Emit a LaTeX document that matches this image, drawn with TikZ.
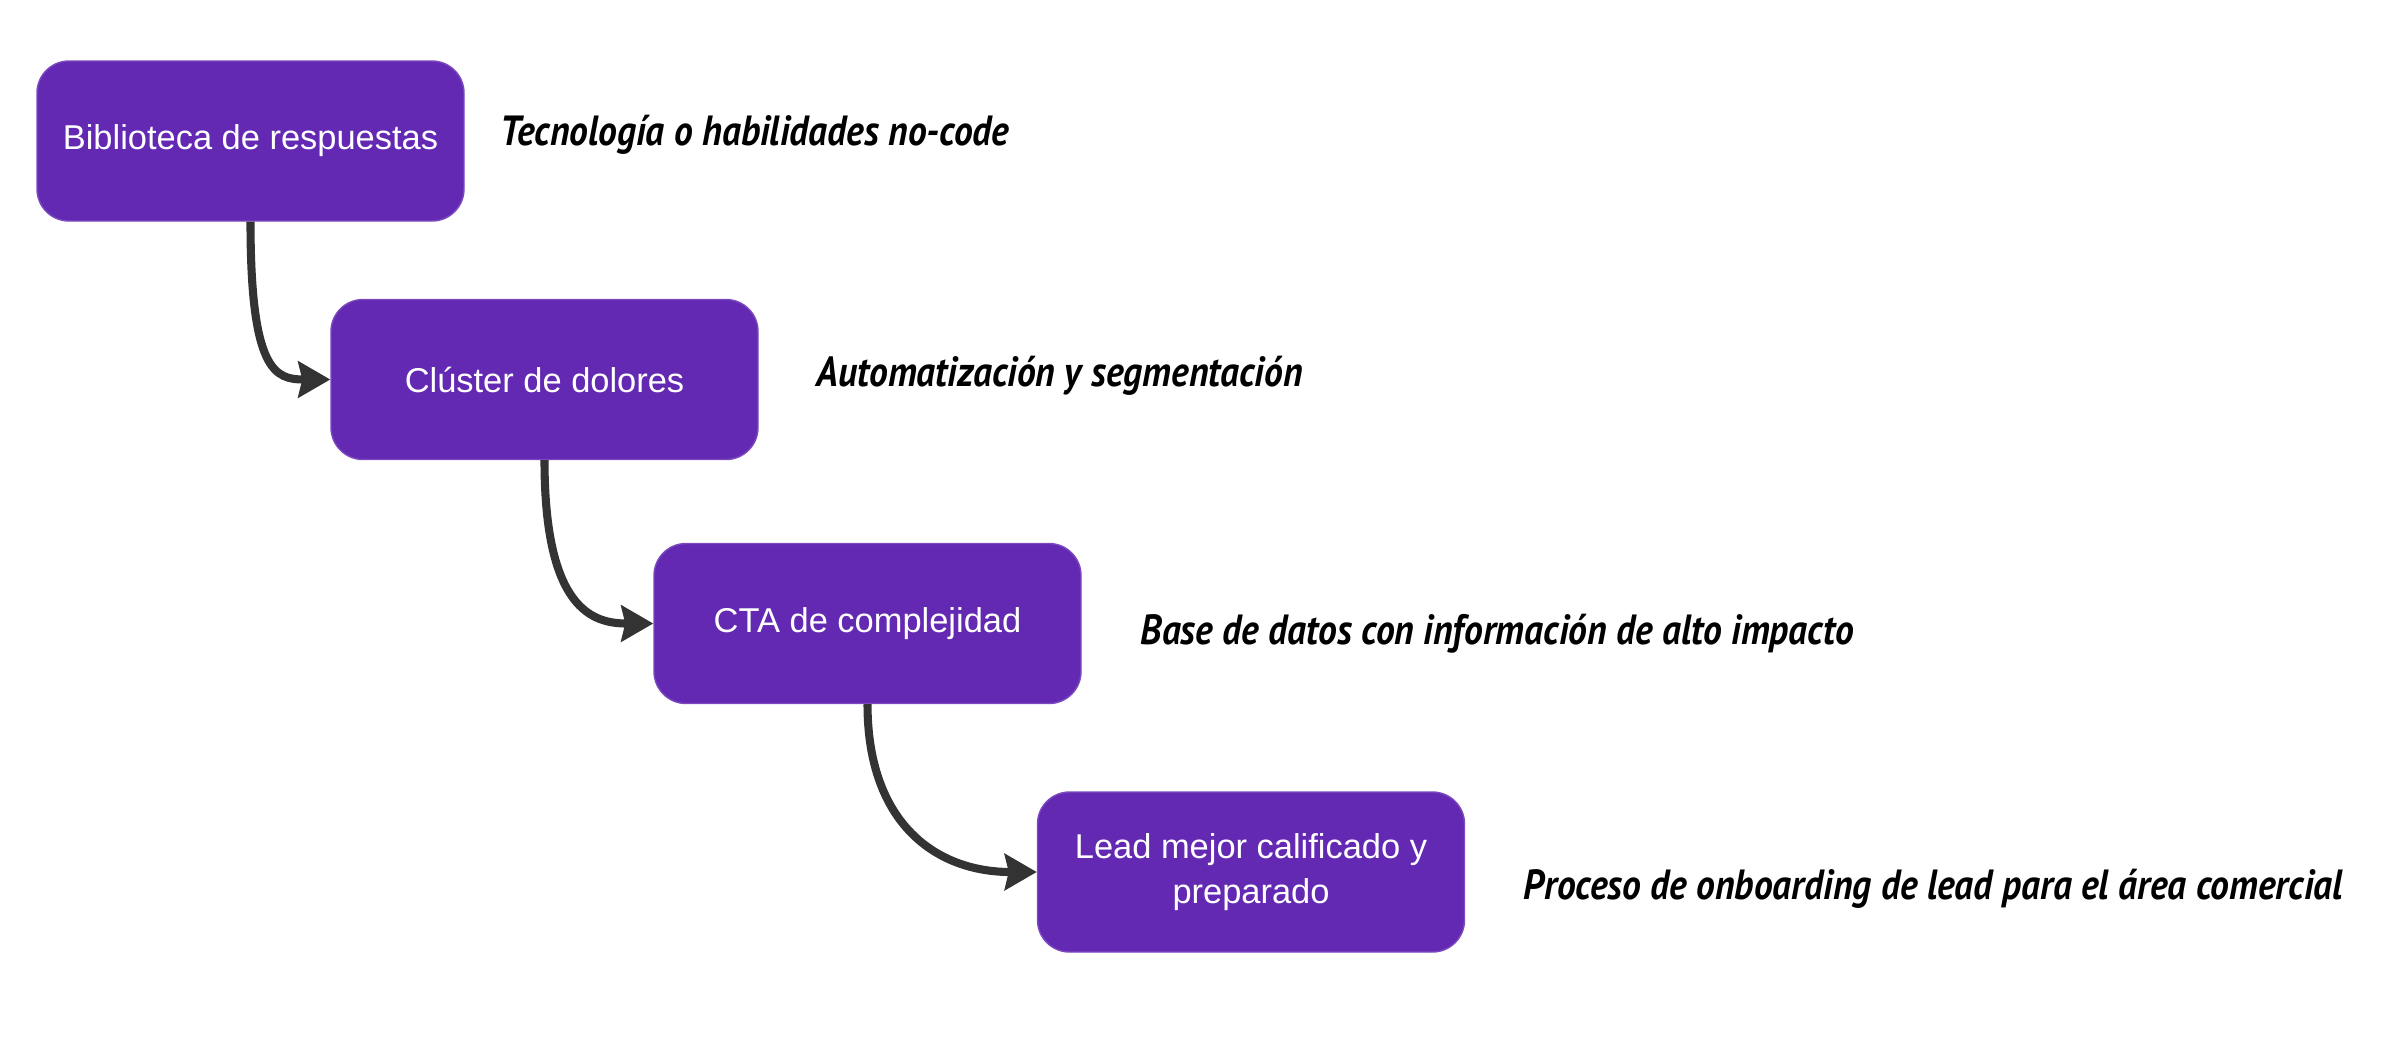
\documentclass[tikz,border=0pt]{standalone}
\usepackage{fontspec}
\setmainfont{Liberation Sans}
\newfontfamily\handfont[FakeStretch=0.89]{PT Sans}
\usepackage{tikz}
\usetikzlibrary{arrows.meta}

\definecolor{boxpurple}{HTML}{6429B3}
\definecolor{arrowgray}{HTML}{333333}

\tikzset{
  stepbox/.style={draw=boxpurple!85!white, fill=boxpurple, rounded corners=0.32cm,
    minimum width=4.27cm, minimum height=1.6cm, text=white, align=center,
    font=\fontsize{9.8}{13}\selectfont},
  note/.style={anchor=west, inner sep=0pt, font=\handfont\bfseries\itshape\fontsize{12}{14}\selectfont},
  flow/.style={draw=arrowgray, line width=2.3pt,
    -{Stealth[length=0.32cm,width=0.36cm,inset=0.04cm]}}
}

\begin{document}
\begin{tikzpicture}
    \useasboundingbox (0,0) rectangle (24,-10.62);

    \node[stepbox] (biblioteca) at (2.505,-1.41) {Biblioteca de respuestas};
    \node[stepbox] (cluster) at (5.445,-3.795) {Clúster de dolores};
    \node[stepbox] (cta) at (8.675,-6.235) {CTA de complejidad};
    \node[stepbox] (lead) at (12.51,-8.72) {Lead mejor calificado y\\preparado};

    \node[note] (tec) at (5.0,-1.35) {Tecnología o habilidades no-code};
    \node[note] (auto) at (8.16,-3.76) {Automatización y segmentación};
    \node[note] (base) at (11.40,-6.34) {Base de datos con información de alto impacto};
    \node[note] (onb) at (15.23,-8.89) {Proceso de onboarding de lead para el área comercial};

    \draw[flow] (biblioteca.south) .. controls +(0,-1.5) and +(-0.55,0) .. (cluster.west);
    \draw[flow] (cluster.south) .. controls +(0,-1.5) and +(-0.6,0) .. (cta.west);
    \draw[flow] (cta.south) .. controls +(0,-1.2) and +(-1.0,0) .. (lead.west);

      % \draw[help lines](0,0) grid (24,-10.62);
  \end{tikzpicture}
\end{document}
